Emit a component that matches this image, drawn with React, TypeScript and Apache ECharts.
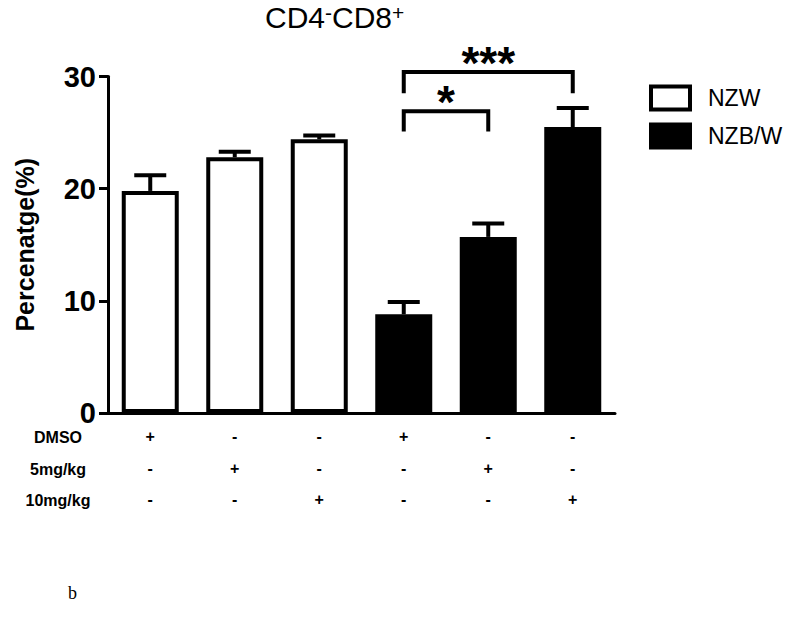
import React, { useEffect, useRef } from "react";
import * as echarts from "echarts";

const categories = ["G1", "G2", "G3", "G4", "G5", "G6"];
const nzwValues: (number | string)[] = [19.8, 22.8, 24.4, "-", "-", "-"];
const nzbwValues: (number | string)[] = ["-", "-", "-", 8.8, 15.7, 25.5];
const means = [19.8, 22.8, 24.4, 8.8, 15.7, 25.5];
const errors = [1.4, 0.5, 0.35, 1.1, 1.2, 1.7];
const dmsoRow = ["+", "-", "-", "+", "-", "-"];
const mg5Row = ["-", "+", "-", "-", "+", "-"];
const mg10Row = ["-", "-", "+", "-", "-", "+"];
const rowLabels = ["DMSO", "5mg/kg", "10mg/kg"];
const bracketFrom = [3, 3];
const bracketTo = [4, 5];
const bracketTop = [26.9, 30.4];
const bracketLeg = [25.1, 28.5];
const bracketLabels = ["*", "***"];

const FONT = '"Liberation Sans", Arial, sans-serif';

export default function App() {
  const ref = useRef<HTMLDivElement>(null);
  useEffect(() => {
    if (!ref.current) return;
    const chart = echarts.init(ref.current, null, { renderer: "svg" });
    const rowY = [437, 469, 500];
    chart.setOption({
      animation: false,
      backgroundColor: "#fff",
      textStyle: { fontFamily: FONT },
      grid: { left: 108, right: 180, top: 76.5, bottom: 211, containLabel: false },
      legend: {
        orient: "vertical",
        left: 649,
        top: 84.5,
        padding: 0,
        icon: "rect",
        itemWidth: 39,
        itemHeight: 23,
        itemGap: 11,
        textStyle: { fontSize: 23, color: "#000", fontFamily: FONT, padding: [0, 0, 0, 13] },
        data: [
          { name: "NZW", itemStyle: { color: "#fff", borderColor: "#000", borderWidth: 4 } },
          { name: "NZB/W", itemStyle: { color: "#000", borderColor: "#000", borderWidth: 4 } },
        ],
      },
      xAxis: {
        type: "category",
        data: categories,
        axisLine: { lineStyle: { color: "#000", width: 3 } },
        axisTick: { alignWithLabel: true, length: 9, lineStyle: { color: "#000", width: 3 } },
        axisLabel: {
          margin: 8,
          color: "#000",
          fontWeight: "bold",
          fontSize: 16,
          lineHeight: 31.5,
          fontFamily: FONT,
          formatter: (_v: string, i: number) => `${dmsoRow[i]}\n${mg5Row[i]}\n${mg10Row[i]}`,
        },
      },
      yAxis: {
        type: "value",
        min: 0,
        max: 30,
        interval: 10,
        name: "Percenatge(%)",
        nameLocation: "middle",
        nameGap: 71,
        nameTextStyle: { fontSize: 25, fontWeight: "bold", color: "#000", fontFamily: FONT },
        axisLine: { show: true, lineStyle: { color: "#000", width: 3 } },
        axisTick: { show: true, length: 9, lineStyle: { color: "#000", width: 3 } },
        axisLabel: { margin: 12, color: "#000", fontSize: 29, fontWeight: "bold", fontFamily: FONT },
        splitLine: { show: false },
      },
      graphic: [
        {
          type: "text",
          left: 265,
          top: 2,
          style: {
            text: "{n|CD4}{s|-}{n|CD8}{s|+}",
            rich: {
              n: { fontSize: 30, fontFamily: FONT, fill: "#000", verticalAlign: "bottom" },
              s: { fontSize: 21, fontFamily: FONT, fill: "#000", verticalAlign: "top" },
            },
          },
        },
        ...rowLabels.map((t, i) => ({
          type: "text",
          x: 58,
          y: rowY[i],
          style: {
            text: t,
            textAlign: "center",
            textVerticalAlign: "middle",
            font: `bold 16px ${FONT}`,
            fill: "#000",
          },
        })),
        {
          type: "text",
          x: 68,
          y: 593,
          style: {
            text: "b",
            textAlign: "left",
            textVerticalAlign: "middle",
            font: '18px "Liberation Serif", "DejaVu Serif", serif',
            fill: "#000",
          },
        },
      ],
      series: [
        {
          name: "NZW",
          type: "bar",
          data: nzwValues,
          barWidth: 57,
          barGap: "-100%",
          itemStyle: { color: "#fff", borderColor: "#000", borderWidth: 4 },
        },
        {
          name: "NZB/W",
          type: "bar",
          data: nzbwValues,
          barWidth: 57,
          barGap: "-100%",
          itemStyle: { color: "#000", borderColor: "#000", borderWidth: 4 },
        },
        {
          name: "err",
          type: "custom",
          z: 5,
          data: means.map((m, i) => [i, m, errors[i]]),
          encode: { x: 0, y: 1 },
          renderItem: (_p: any, api: any) => {
            const i = api.value(0);
            const m = api.value(1);
            const e = api.value(2);
            const b = api.coord([i, m]);
            const t = api.coord([i, m + e]);
            return {
              type: "group",
              children: [
                { type: "line", shape: { x1: b[0], y1: b[1], x2: t[0], y2: t[1] }, style: { stroke: "#000", lineWidth: 4 } },
                { type: "line", shape: { x1: t[0] - 16, y1: t[1], x2: t[0] + 16, y2: t[1] }, style: { stroke: "#000", lineWidth: 4 } },
              ],
            };
          },
        },
        {
          name: "sig",
          type: "custom",
          z: 6,
          clip: false,
          data: bracketFrom.map((f, i) => [f, bracketTo[i], bracketTop[i], bracketLeg[i]]),
          encode: { x: [0, 1], y: [2, 3] },
          renderItem: (p: any, api: any) => {
            const a = api.value(0);
            const b = api.value(1);
            const yt = api.value(2);
            const yl = api.value(3);
            const p1 = api.coord([a, yl]);
            const p2 = api.coord([a, yt]);
            const p3 = api.coord([b, yt]);
            const p4 = api.coord([b, yl]);
            return {
              type: "group",
              children: [
                {
                  type: "polyline",
                  shape: { points: [p1, p2, p3, p4] },
                  style: { stroke: "#000", lineWidth: 4, fill: null, lineJoin: "miter" },
                },
                {
                  type: "text",
                  x: (p2[0] + p3[0]) / 2,
                  y: p2[1] + 14,
                  style: {
                    text: bracketLabels[p.dataIndex],
                    textAlign: "center",
                    textVerticalAlign: "bottom",
                    font: `bold 46px ${FONT}`,
                    fill: "#000",
                  },
                },
              ],
            };
          },
        },
      ],
    });
    return () => chart.dispose();
  }, []);
  return (
    <div
      ref={ref}
      style={{ position: "fixed", left: 0, top: 0, width: 795, height: 624, background: "#fff" }}
    />
  );
}
